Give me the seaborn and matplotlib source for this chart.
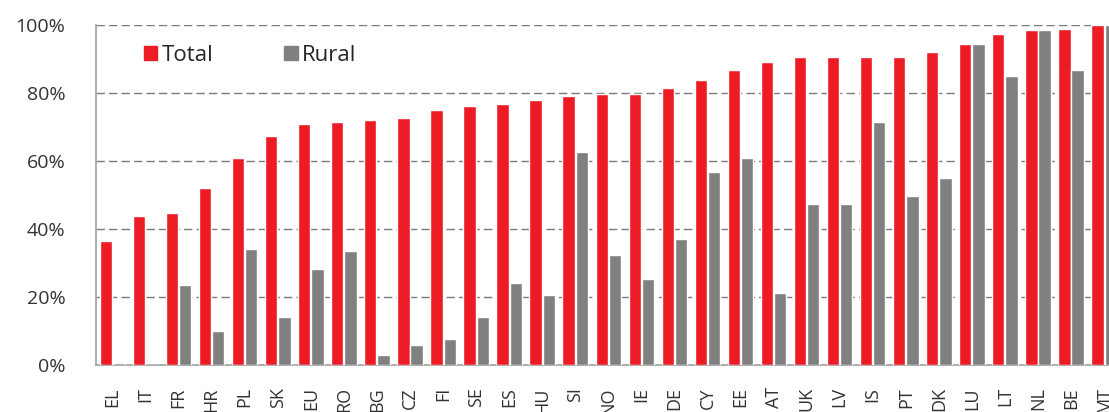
import pandas as pd
import matplotlib
matplotlib.use('Agg')
import matplotlib.pyplot as plt
import seaborn as sns
from matplotlib.patches import Patch
from matplotlib.ticker import FuncFormatter

countries = ['EL', 'IT', 'FR', 'HR', 'PL', 'SK', 'EU', 'RO', 'BG', 'CZ', 'FI', 'SE', 'ES', 'HU', 'SI', 'NO',
             'IE', 'DE', 'CY', 'EE', 'AT', 'UK', 'LV', 'IS', 'PT', 'DK', 'LU', 'LT', 'NL', 'BE', 'MT']
total = [36.4, 43.9, 44.6, 52.2, 60.9, 67.4, 70.9, 71.4, 72.0, 72.6, 75.0, 76.1, 76.7, 77.9, 79.1, 79.7,
         79.7, 81.4, 83.8, 86.7, 89.0, 90.7, 90.7, 90.7, 90.7, 92.0, 94.3, 97.3, 98.4, 98.9, 100.0]
rural = [0.6, 0.0, 23.5, 10.0, 34.0, 14.1, 28.2, 33.5, 2.9, 5.9, 7.6, 14.1, 24.1, 20.5, 62.6, 32.3,
         25.2, 37.0, 56.8, 60.9, 21.1, 47.5, 47.5, 71.4, 49.8, 55.1, 94.3, 85.0, 98.4, 86.7, 100.0]
series = ['Total', 'Rural']
colors = ['#ED1C24', '#808080']

df = pd.DataFrame({'country': countries * 2,
                   'value': total + rural,
                   'series': ['Total'] * len(countries) + ['Rural'] * len(countries)})

sns.set_style('white')
plt.rcParams['font.family'] = ['Open Sans', 'DejaVu Sans']

fig = plt.figure(figsize=(11.09, 4.12), dpi=100)
ax = fig.add_axes([96 / 1109, 47 / 412, 1024.6 / 1109, 340 / 412])

sns.barplot(data=df, x='country', y='value', hue='series', hue_order=series,
            palette=colors, width=0.8, gap=0.07, saturation=1, ax=ax, zorder=3)

ax.set_xlim(-0.5, len(countries) - 0.5)
ax.set_ylim(0, 100)
ax.set_yticks([0, 20, 40, 60, 80, 100])
ax.yaxis.set_major_formatter(FuncFormatter(lambda v, p: '{:.0f}%'.format(v)))
ax.grid(axis='y', linestyle=(0, (6, 3)), color='#7A7A7A', linewidth=1, zorder=0)
ax.set_axisbelow(True)
ax.set_xlabel('')
ax.set_ylabel('')

for s in ['top', 'right']:
    ax.spines[s].set_visible(False)
for s in ['left', 'bottom']:
    ax.spines[s].set_color('#A0A0A0')
    ax.spines[s].set_linewidth(1.2)

ax.tick_params(axis='y', length=0, pad=22, labelsize=14, labelcolor='#333333')
ax.tick_params(axis='x', length=0, pad=16, labelsize=13, labelcolor='#333333')
plt.setp(ax.get_xticklabels(), rotation=90, va='top', ha='center')

handles = [Patch(color=c) for c in colors]
ax.legend(handles, series, loc='upper left', bbox_to_anchor=(0.027, 1.0), ncol=2, frameon=False,
          fontsize=16, handlelength=0.6, handleheight=0.6, handletextpad=0.2, columnspacing=3.2)

fig.savefig('out.png', dpi=100)
